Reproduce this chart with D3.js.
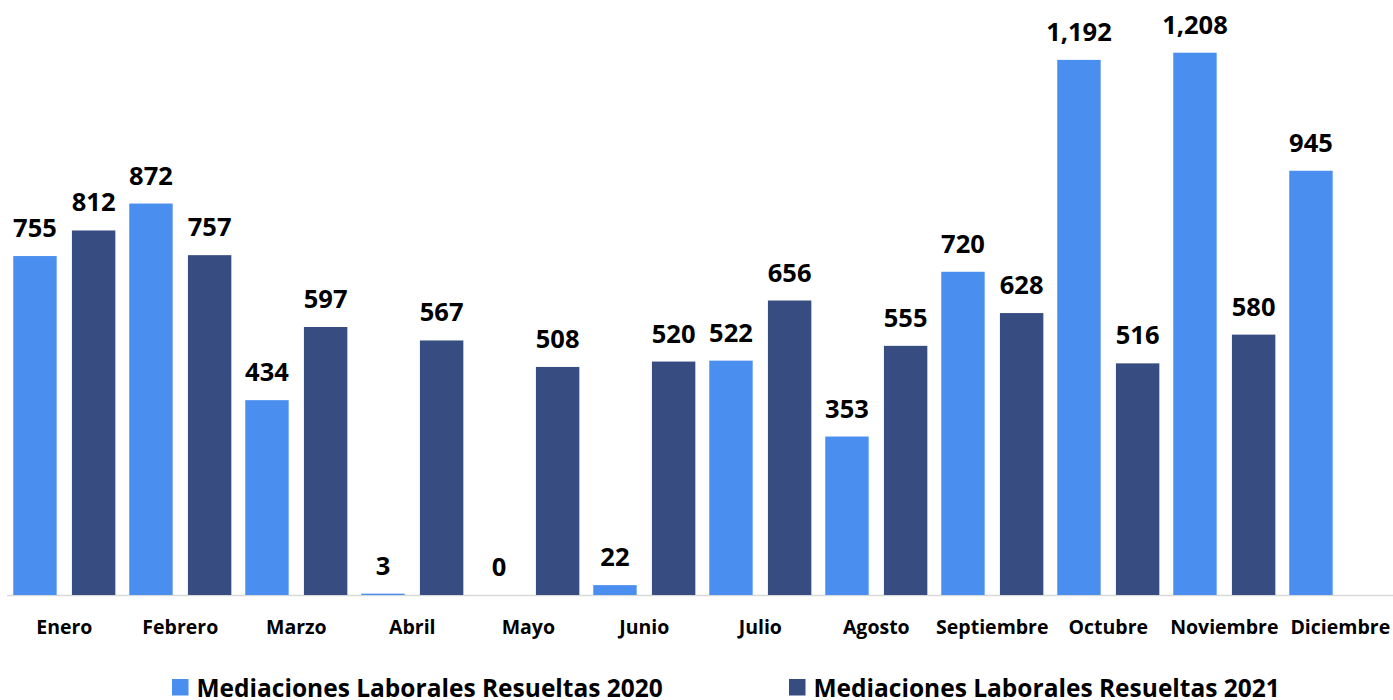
<!DOCTYPE html>
<html>
<head>
<meta charset="utf-8">
<script src="https://cdn.jsdelivr.net/npm/d3@7"></script>
<style>
  body { margin: 0; background: #fff; }
  svg text { font-family: "Open Sans", Lato, sans-serif; font-weight: 700; fill: #000; }
</style>
</head>
<body>
<div id="chart"></div>
<script>
// data
const months = ['Enero', 'Febrero', 'Marzo', 'Abril', 'Mayo', 'Junio', 'Julio',
  'Agosto', 'Septiembre', 'Octubre', 'Noviembre', 'Diciembre'];
const series = ['Mediaciones Laborales Resueltas 2020', 'Mediaciones Laborales Resueltas 2021'];
const values2020 = [755, 872, 434, 3, 0, 22, 522, 353, 720, 1192, 1208, 945];
const values2021 = [812, 757, 597, 567, 508, 520, 656, 555, 628, 516, 580, null];
const colors = ['#4a8eef', '#374c80'];

const width = 1393, height = 700;
const baseY = 595, topY = 52.7;

const svg = d3.select('#chart').append('svg')
  .attr('width', width)
  .attr('height', height);

const rows = months.map((m, i) => ({
  month: m,
  vals: [
    { s: series[0], v: values2020[i] },
    { s: series[1], v: values2021[i] }
  ].filter(d => d.v !== null)
}));

const x = d3.scaleBand().domain(months).range([6.3, 1398.3])
  .paddingInner(0.12).paddingOuter(0.06);
const xs = d3.scaleBand().domain(series).range([0, x.bandwidth()]).paddingInner(0.26);
const y = d3.scaleLinear().domain([0, 1208]).range([baseY, topY]);
const color = d3.scaleOrdinal().domain(series).range(colors);
const fmt = d3.format(',');

// baseline
svg.append('line')
  .attr('x1', 7).attr('x2', width)
  .attr('y1', baseY + 0.5).attr('y2', baseY + 0.5)
  .attr('stroke', '#d9d9d9').attr('stroke-width', 1.5);

const groups = svg.selectAll('g.month')
  .data(rows)
  .join('g')
  .attr('class', 'month')
  .attr('transform', d => `translate(${x(d.month)},0)`);

groups.selectAll('rect')
  .data(d => d.vals)
  .join('rect')
  .attr('x', d => xs(d.s))
  .attr('y', d => y(d.v))
  .attr('width', xs.bandwidth())
  .attr('height', d => y(0) - y(d.v))
  .attr('fill', d => color(d.s));

groups.selectAll('text.val')
  .data(d => d.vals)
  .join('text')
  .attr('class', 'val')
  .attr('x', d => xs(d.s) + xs.bandwidth() / 2)
  .attr('y', d => y(d.v) - 19)
  .attr('text-anchor', 'middle')
  .style('font-size', '25.5px')
  .text(d => fmt(d.v));

// month axis
const xAxis = d3.axisBottom(x).tickSize(0).tickPadding(0);
const ax = svg.append('g')
  .attr('transform', `translate(0,${baseY})`)
  .call(xAxis);
ax.select('.domain').remove();
ax.selectAll('text')
  .attr('y', 38.5)
  .attr('dy', 0)
  .style('font-size', '19.5px')
  .style('font-family', '"Open Sans", Lato, sans-serif')
  .style('font-weight', 700)
  .attr('fill', '#000');

// legend
const legendX = [172, 789];
const legend = svg.selectAll('g.legend')
  .data(series)
  .join('g')
  .attr('class', 'legend')
  .attr('transform', (d, i) => `translate(${legendX[i]},679)`);
legend.append('rect')
  .attr('width', 16.5).attr('height', 16.5)
  .attr('fill', d => color(d));
legend.append('text')
  .attr('x', 24.5)
  .attr('y', 17.5)
  .style('font-size', '24.5px')
  .text(d => d);
</script>
</body>
</html>
